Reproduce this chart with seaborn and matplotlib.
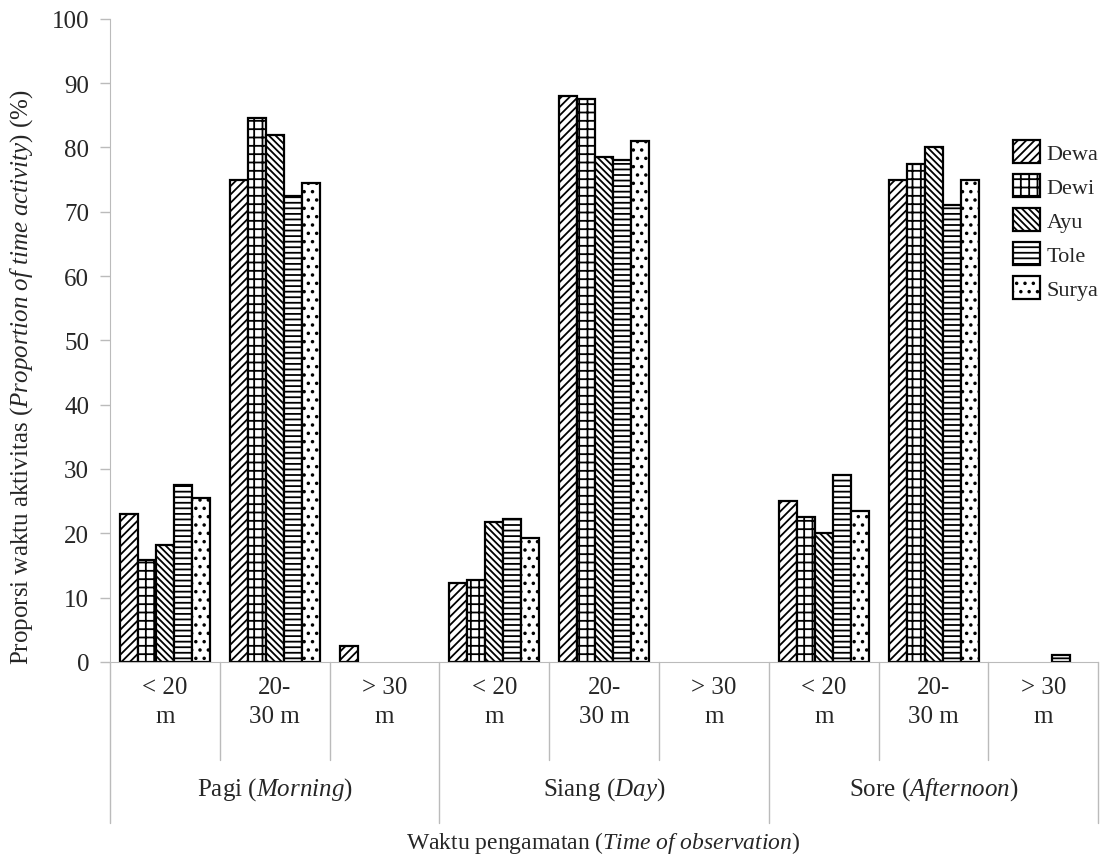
import numpy as np
import pandas as pd
import seaborn as sns
import matplotlib.pyplot as plt

# values (%)
periods = ['Pagi', 'Siang', 'Sore']
period_labels = [r'Pagi ($\it{Morning}$)', r'Siang ($\it{Day}$)', r'Sore ($\it{Afternoon}$)']
ranges = ['< 20\nm', '20-\n30 m', '> 30\nm']
names = ['Dewa', 'Dewi', 'Ayu', 'Tole', 'Surya']

dewa  = [23.0, 75.0, 2.5, 12.3, 88.0, 0.0, 25.0, 75.0, 0.0]
dewi  = [15.8, 84.5, 0.0, 12.7, 87.5, 0.0, 22.5, 77.5, 0.0]
ayu   = [18.2, 82.0, 0.0, 21.7, 78.5, 0.0, 20.0, 80.0, 0.0]
tole  = [27.5, 72.5, 0.0, 22.2, 78.0, 0.0, 29.0, 71.0, 1.0]
surya = [25.5, 74.5, 0.0, 19.3, 81.0, 0.0, 23.5, 75.0, 0.0]

hatches = ['////', '++', '\\\\\\\\\\', '---', '..']

cats = [p + '|' + r for p in periods for r in ranges]
rows = []
for nm, vals in zip(names, [dewa, dewi, ayu, tole, surya]):
    for c, v in zip(cats, vals):
        rows.append({'cat': c, 'name': nm, 'val': v})
df = pd.DataFrame(rows)

sns.set_style('white')
plt.rcParams['font.family'] = ['Liberation Serif', 'DejaVu Serif']
plt.rcParams['mathtext.fontset'] = 'custom'
plt.rcParams['mathtext.rm'] = 'Liberation Serif'
plt.rcParams['mathtext.it'] = 'Liberation Serif:italic'
plt.rcParams['hatch.linewidth'] = 1.3

fig = plt.figure(figsize=(11.06, 8.62), dpi=100)
ax = fig.add_axes([0.0995, 0.231, 0.8935, 0.746])

sns.barplot(data=df, x='cat', y='val', hue='name', order=cats, hue_order=names,
            palette=['white'] * 5, edgecolor='black', linewidth=1.6,
            width=0.82, ax=ax, legend=False)

for cont, h in zip(ax.containers, hatches):
    for bar in cont:
        bar.set_hatch(h)
        if bar.get_height() == 0:
            bar.set_linewidth(0)

ax.set_ylim(0, 100)
ax.set_yticks(np.arange(0, 101, 10))
ax.set_xlim(-0.5, 8.5)
ax.set_xticks(range(9))
ax.set_xticklabels(ranges * 3, fontsize=18, linespacing=1.45)
ax.tick_params(axis='x', length=0, pad=10)
ax.tick_params(axis='y', labelsize=18, length=7, width=1, color='#bbbbbb', left=True, pad=8)

for s in ['top', 'right']:
    ax.spines[s].set_visible(False)
ax.spines['left'].set_color('#bbbbbb')
ax.spines['bottom'].set_color('#bbbbbb')

ax.set_xlabel('')
fig.text(0.545, 0.022, r'Waktu pengamatan ($\it{Time\ of\ observation}$)', fontsize=17,
         ha='center', va='center')
ax.set_ylabel(r'Proporsi waktu aktivitas ($\it{Proportion\ of\ time\ activity}$) (%)',
              fontsize=18)
ax.yaxis.set_label_coords(-0.076, 0.445)

# category table below the axis
trans = ax.get_xaxis_transform()
for i in range(10):
    x = i - 0.5
    depth = -0.25 if i % 3 == 0 else -0.152
    ax.plot([x, x], [0, depth], color='#bbbbbb', lw=1, transform=trans, clip_on=False)
for j, lab in enumerate(period_labels):
    ax.text(3 * j + 1, -0.197, lab, transform=trans, ha='center', va='center', fontsize=18)

ax.legend(ax.containers, names, loc='upper left', bbox_to_anchor=(0.905, 0.825),
          frameon=False, fontsize=16, handlelength=1.2, handleheight=1.2,
          handletextpad=0.3, labelspacing=0.45, borderaxespad=0)

fig.savefig('out.png', dpi=100)
